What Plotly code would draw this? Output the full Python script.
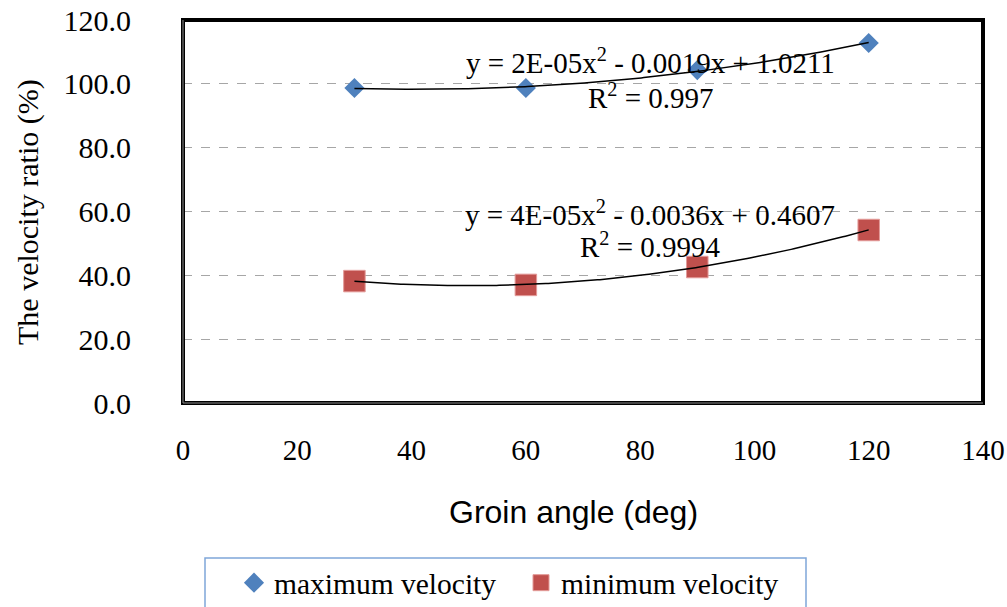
import numpy as np
import plotly.graph_objects as go

# ---- data ----
angles = [30, 60, 90, 120]
max_velocity = [98.7, 98.7, 104.3, 112.8]
min_velocity = [38.2, 37.0, 42.6, 54.2]
x_ticks = [0, 20, 40, 60, 80, 100, 120, 140]
y_ticks = [0, 20, 40, 60, 80, 100, 120]
max_label = "maximum velocity"
min_label = "minimum velocity"
max_eq = "y = 2E-05x<sup>2</sup> - 0.0019x + 1.0211"
max_r2 = "R<sup>2</sup> = 0.997"
min_eq = "y = 4E-05x<sup>2</sup> - 0.0036x + 0.4607"
min_r2 = "R<sup>2</sup> = 0.9994"

SERIF = "Liberation Serif"
SANS = "Liberation Sans"

# polynomial (order 2) trendlines fitted to the series
xs = np.linspace(min(angles), max(angles), 200)
fit_max = np.polyval(np.polyfit(angles, max_velocity, 2), xs)
fit_min = np.polyval(np.polyfit(angles, min_velocity, 2), xs)

fig = go.Figure()
fig.add_trace(go.Scatter(x=angles, y=max_velocity, mode="markers", name=max_label,
                         marker=dict(symbol="diamond", size=15.5, color="#4F81BD",
                                     line=dict(width=0))))
fig.add_trace(go.Scatter(x=angles, y=min_velocity, mode="markers", name=min_label,
                         marker=dict(symbol="square", size=21.5, color="#C0504D",
                                     line=dict(width=1, color="#E39A98"))))
fig.add_trace(go.Scatter(x=xs, y=fit_max, mode="lines", showlegend=False,
                         line=dict(color="black", width=1.5), hoverinfo="skip"))
fig.add_trace(go.Scatter(x=xs, y=fit_min, mode="lines", showlegend=False,
                         line=dict(color="black", width=1.5), hoverinfo="skip"))

W, H = 1007, 607
L, R, T, B = 183, 24, 20, 204
PW, PH = W - L - R, H - T - B

def px_x(p):
    return (p - L) / PW

def px_y(p):
    return (H - B - p) / PH

fig.update_layout(
    width=W, height=H, autosize=False,
    margin=dict(l=L, r=R, t=T, b=B, pad=0, autoexpand=False),
    paper_bgcolor="white", plot_bgcolor="white",
    font=dict(family=SERIF, size=28, color="black"),
    showlegend=True,
    legend=dict(orientation="h", xref="container", yref="container",
                x=234 / W, xanchor="left", y=(H - 583) / H, yanchor="middle",
                bgcolor="rgba(0,0,0,0)", borderwidth=0,
                font=dict(family=SERIF, size=29.5, color="black"),
                itemsizing="trace", entrywidth=242, tracegroupgap=0),
    xaxis=dict(range=[0, 140], tickvals=x_ticks, showgrid=False, zeroline=False,
               showline=False, ticks="", ticklabelstandoff=27, automargin=False,
               tickfont=dict(family=SERIF, size=29, color="black")),
    yaxis=dict(range=[0, 120], tickvals=y_ticks, tickformat=".1f", showgrid=True,
               gridcolor="#A6A6A6", griddash="dash", gridwidth=1, zeroline=False,
               showline=False, ticks="", ticklabelstandoff=51, automargin=False,
               tickfont=dict(family=SERIF, size=30, color="black")),
)

shapes = [
    dict(type="rect", xref="paper", yref="paper", x0=0, x1=1, y0=0, y1=1,
         line=dict(color="black", width=4)),
    dict(type="line", xref="paper", yref="paper", x0=0, x1=0, y0=0, y1=1,
         line=dict(color="#8C8C8C", width=1)),
    dict(type="line", xref="paper", yref="paper", x0=0, x1=1, y0=0, y1=0,
         line=dict(color="#8C8C8C", width=1)),
    dict(type="rect", xref="paper", yref="paper", x0=px_x(205), x1=px_x(806),
         y0=px_y(558), y1=px_y(640), line=dict(color="#7FA6D9", width=1.5)),
]
fig.update_layout(shapes=shapes)

ann_font = dict(family=SERIF, size=29, color="black")
annotations = [
    dict(text=max_eq, x=px_x(650), y=px_y(61)),
    dict(text=max_r2, x=px_x(651), y=px_y(96)),
    dict(text=min_eq, x=px_x(650), y=px_y(213)),
    dict(text=min_r2, x=px_x(650), y=px_y(245)),
]
for a in annotations:
    fig.add_annotation(xref="paper", yref="paper", showarrow=False, xanchor="center",
                       yanchor="middle", font=ann_font, **a)

fig.add_annotation(text="The velocity ratio (%)", xref="paper", yref="paper",
                   x=px_x(28), y=px_y(212), textangle=-90, showarrow=False,
                   xanchor="center", yanchor="middle", font=dict(family=SERIF, size=30, color="black"))
fig.add_annotation(text="Groin angle (deg)", xref="paper", yref="paper",
                   x=px_x(573), y=px_y(512), showarrow=False,
                   xanchor="center", yanchor="middle", font=dict(family=SANS, size=32, color="black"))

fig.write_html("out.html")
